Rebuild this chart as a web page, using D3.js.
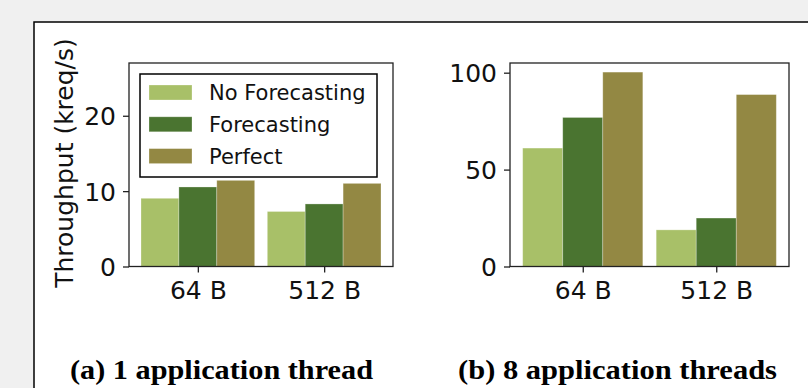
<!DOCTYPE html>
<html>
<head>
<meta charset="utf-8">
<script src="https://cdn.jsdelivr.net/npm/d3@7"></script>
<style>
  html, body { margin: 0; padding: 0; background: #f0f0f0; }
  svg { display: block; }
</style>
</head>
<body>
<svg id="fig" width="808" height="388"></svg>
<script>
// Throughput for each message size, per panel
const categories = ["64 B", "512 B"];
const seriesNames = ["No Forecasting", "Forecasting", "Perfect"];
const seriesColors = ["#a8c068", "#4a7430", "#938843"];

const oneThreadNoForecast = [9.05, 7.3];
const oneThreadForecast = [10.55, 8.3];
const oneThreadPerfect = [11.43, 11.03];

const eightThreadsNoForecast = [61.1, 18.9];
const eightThreadsForecast = [76.9, 25.0];
const eightThreadsPerfect = [100.3, 88.7];

const oneThreadTicks = [0, 10, 20];
const eightThreadsTicks = [0, 50, 100];

const yLabel = "Throughput (kreq/s)";
const captionA = "(a) 1 application thread";
const captionB = "(b) 8 application threads";

const svg = d3.select("#fig");

// page frame
svg.append("rect").attr("x", 0).attr("y", 0).attr("width", 808).attr("height", 388).attr("fill", "#f0f0f0");
svg.append("rect")
  .attr("x", 34).attr("y", 22).attr("width", 800).attr("height", 400)
  .attr("fill", "#ffffff").attr("stroke", "#000").attr("stroke-width", 1.5);

const tickFont = "'DejaVu Sans', sans-serif";

function panel(opts) {
  const { left, right, top, bottom, yMax, ticks, series, tickEnd } = opts;
  const g = svg.append("g");
  const x = d3.scaleLinear().domain([-0.545, 1.545]).range([left, right]);
  const y = d3.scaleLinear().domain([0, yMax]).range([bottom, top]);
  const barW = 0.3;

  series.forEach((vals, si) => {
    g.append("g").selectAll("rect")
      .data(vals)
      .join("rect")
      .attr("x", (d, i) => x(i + (si - 1) * barW - barW / 2))
      .attr("width", (d, i) => x(i + (si - 1) * barW + barW / 2) - x(i + (si - 1) * barW - barW / 2))
      .attr("y", d => y(d))
      .attr("height", d => y(0) - y(d))
      .attr("fill", seriesColors[si])
      .attr("stroke", "rgba(255,255,255,0.35)")
      .attr("stroke-width", 0.8);
  });

  // axes box
  g.append("rect")
    .attr("x", left).attr("y", top)
    .attr("width", right - left).attr("height", bottom - top)
    .attr("fill", "none").attr("stroke", "#222").attr("stroke-width", 1.3);

  // y axis
  const yAxis = d3.axisLeft(y).tickValues(ticks).tickSize(6).tickSizeOuter(0).tickPadding(0);
  const ya = g.append("g").attr("transform", `translate(${left},0)`).call(yAxis);
  ya.select(".domain").remove();
  ya.selectAll(".tick line").attr("stroke", "#222").attr("stroke-width", 1.3);
  ya.selectAll(".tick text")
    .attr("x", tickEnd - left)
    .attr("dy", "0.36em")
    .attr("fill", "#111")
    .style("font-family", tickFont).style("font-size", "25px");

  // x axis
  const xAxis = d3.axisBottom(x).tickValues([0, 1]).tickFormat(i => categories[i])
    .tickSize(6).tickSizeOuter(0).tickPadding(0);
  const xa = g.append("g").attr("transform", `translate(0,${bottom})`).call(xAxis);
  xa.select(".domain").remove();
  xa.selectAll(".tick line").attr("stroke", "#222").attr("stroke-width", 1.3);
  xa.selectAll(".tick text")
    .attr("y", 32).attr("dy", 0)
    .attr("fill", "#111")
    .style("font-family", tickFont).style("font-size", "25px");

  return { g, x, y };
}

panel({
  left: 129, right: 393, top: 63, bottom: 266.5, yMax: 27,
  ticks: oneThreadTicks, tickEnd: 116,
  series: [oneThreadNoForecast, oneThreadForecast, oneThreadPerfect]
});

panel({
  left: 510, right: 789, top: 63, bottom: 266.5, yMax: 105,
  ticks: eightThreadsTicks, tickEnd: 497,
  series: [eightThreadsNoForecast, eightThreadsForecast, eightThreadsPerfect]
});

// y axis title
svg.append("text")
  .attr("transform", "translate(73,163) rotate(-90)")
  .attr("text-anchor", "middle")
  .attr("fill", "#111")
  .style("font-family", tickFont).style("font-size", "25px")
  .text(yLabel);

// legend
const legend = svg.append("g");
legend.append("rect")
  .attr("x", 140).attr("y", 74).attr("width", 237).attr("height", 103)
  .attr("fill", "#fff").attr("stroke", "#000").attr("stroke-width", 1.5);
const rows = legend.selectAll("g.row").data(seriesNames).join("g")
  .attr("class", "row")
  .attr("transform", (d, i) => `translate(0,${92.5 + i * 31.8})`);
rows.append("rect")
  .attr("x", 149).attr("y", -7.5).attr("width", 43).attr("height", 15)
  .attr("fill", (d, i) => seriesColors[i])
  .attr("stroke", "rgba(255,255,255,0.35)").attr("stroke-width", 0.8);
rows.append("text")
  .attr("x", 209).attr("y", 7.5)
  .attr("fill", "#111")
  .style("font-family", tickFont).style("font-size", "21px")
  .text(d => d);

// subfigure captions
const capFont = "'Liberation Serif', 'Times New Roman', serif";
svg.append("text")
  .attr("x", 70).attr("y", 379)
  .attr("textLength", 303).attr("lengthAdjust", "spacingAndGlyphs")
  .attr("fill", "#000")
  .style("font-family", capFont).style("font-weight", "bold").style("font-size", "28px")
  .text(captionA);
svg.append("text")
  .attr("x", 458).attr("y", 379)
  .attr("textLength", 319).attr("lengthAdjust", "spacingAndGlyphs")
  .attr("fill", "#000")
  .style("font-family", capFont).style("font-weight", "bold").style("font-size", "28px")
  .text(captionB);
</script>
</body>
</html>
